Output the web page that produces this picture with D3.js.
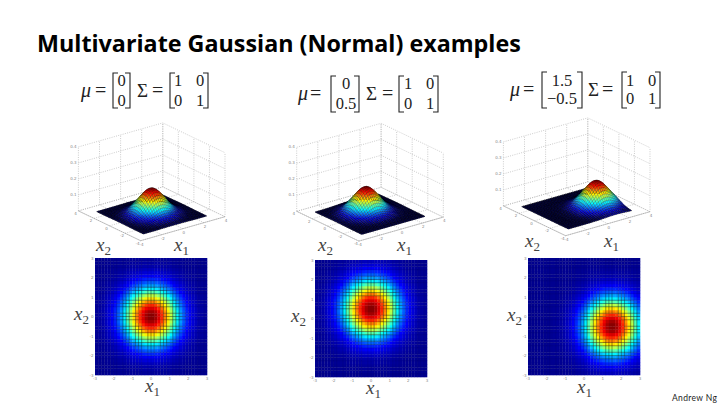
<!DOCTYPE html>
<html>
<head>
<meta charset="utf-8">
<script src="https://cdn.jsdelivr.net/npm/d3@7"></script>
<style>
  html, body { margin: 0; padding: 0; background: #fff; }
  svg { display: block; }
</style>
</head>
<body>
<script>
// values, one profile per axis per panel, step 1/6 from -3 to 3
// (relative to the peak height)
const centred = [.01,.02,.03,.04,.07,.10,.14,.19,.25,.32,.41,.51,.61,.71,.80,.88,.95,.99,1,
                 .99,.95,.88,.80,.71,.61,.51,.41,.32,.25,.19,.14,.10,.07,.04,.03,.02,.01];
const shiftedUp = [0,0,.01,.01,.02,.03,.04,.07,.10,.14,.19,.25,.32,.41,.51,.61,.71,.80,.88,.95,.99,1,
                   .99,.95,.88,.80,.71,.61,.51,.41,.32,.25,.19,.14,.10,.07,.04];
const shiftedDown = [.04,.07,.10,.14,.19,.25,.32,.41,.51,.61,.71,.80,.88,.95,.99,1,.99,.95,.88,.80,
                     .71,.61,.51,.41,.32,.25,.19,.14,.10,.07,.04,.03,.02,.01,.01,0,0];
const shiftedRight = [0,0,0,0,0,0,0,0,.01,.01,.02,.03,.04,.07,.10,.14,.19,.25,.32,.41,.51,.61,
                      .71,.80,.88,.95,.99,1,.99,.95,.88,.80,.71,.61,.51,.41,.32];
const gridValues = d3.range(37).map(i => -3 + i / 6);
const peakZ = 0.159;

const heatTicks = [-3, -2, -1, 0, 1, 2, 3];
const floorTicks = [-4, -2, 0, 2, 4];
const zTicks = [0.1, 0.2, 0.3, 0.4];

const muRows = [["0", "0"], ["0", "0.5"], ["1.5", "\u22120.5"]];
const sigmaRows = [["1", "0"], ["0", "1"]];
const profilesX1 = [centred, centred, shiftedRight];
const profilesX2 = [centred, shiftedUp, shiftedDown];

const jetStops = [0, .125, .375, .625, .875, 1];
const jetColors = ["#00008f", "#0000ff", "#00ffff", "#ffff00", "#ff0000", "#7f0000"];

// layout of each panel
const layouts = [
  { heatX: 95, heatY: 258, cx: 151.7, cy: 213.8,
    label3d: { x2: 96, x1: 174, y: 251 }, labelHeat: { x2: 74, x1: 145, y2: 320, y1: 392 },
    eq: { mu: 81, eq1: 95, lb: 113, col: 121.7, rb: 130, sig: 137, eq2: 152, lb2: 170, c1: 178, c2: 200, rb2: 208, top: 73, bot: 108, r1: 85.5, r2: 105.5 } },
  { heatX: 315, heatY: 260, cx: 370, cy: 214.2,
    label3d: { x2: 318, x1: 397, y: 251 }, labelHeat: { x2: 291, x1: 366, y2: 322, y1: 394 },
    eq: { mu: 298, eq1: 310, lb: 331, col: 346, rb: 359, sig: 366, eq2: 382, lb2: 399, c1: 408, c2: 430, rb2: 438, top: 76, bot: 112, r1: 88.5, r2: 108.5 } },
  { heatX: 528, heatY: 258, cx: 576.7, cy: 208.8,
    label3d: { x2: 525, x1: 604, y: 247 }, labelHeat: { x2: 507, x1: 577, y2: 321, y1: 393 },
    eq: { mu: 510, eq1: 523, lb: 542, col: 562, rb: 582, sig: 588, eq2: 602, lb2: 622, c1: 630, c2: 652, rb2: 660, top: 72, bot: 108, r1: 85.5, r2: 103.5 } }
];

const W = 720, H = 405;
const heatW = 112, heatH = 117;
const svg = d3.select("body").append("svg").attr("width", W).attr("height", H);

const jet = d3.scaleLinear().domain(jetStops).range(jetColors);
const lineAlpha = d3.scaleLinear().domain([0, .15, .3, .7, .85, 1]).range([.12, .2, .65, .7, .12, .03]).clamp(true);
const meshAlpha = d3.scaleLinear().domain([0, .08, .3, 1]).range([.9, .6, .3, .25]).clamp(true);

svg.append("text")
  .attr("x", 37).attr("y", 52)
  .attr("font-family", "Open Sans").attr("font-weight", 700).attr("font-size", 23.3)
  .attr("fill", "#000")
  .text("Multivariate Gaussian (Normal) examples");

svg.append("text")
  .attr("x", 672).attr("y", 401)
  .attr("font-family", "Lato").attr("font-size", 8.5).attr("letter-spacing", 0.35)
  .attr("fill", "#222")
  .text("Andrew Ng");

function axisLabel(g, x, y, sub) {
  const t = g.append("text").attr("x", x).attr("y", y)
    .attr("font-family", "Liberation Serif").attr("font-size", 19).attr("fill", "#444");
  t.append("tspan").attr("font-style", "italic").text("x");
  t.append("tspan").attr("font-size", 13).attr("dy", 4).text(sub);
}

function drawEquation(g, e, mu) {
  const text = (x, y, s, anchor, size) => g.append("text").attr("x", x).attr("y", y)
    .attr("text-anchor", anchor || "middle")
    .attr("font-family", "Liberation Serif").attr("font-size", size || 16.5).attr("fill", "#222").text(s);
  const bracket = (x, dir) => g.append("path")
    .attr("d", `M${x + dir * 5},${e.top}H${x}V${e.bot}H${x + dir * 5}`)
    .attr("fill", "none").attr("stroke", "#222").attr("stroke-width", 1.1);
  const mid = (e.top + e.bot) / 2 + 6;

  text(e.mu, mid, "\u03bc", "start", 20).attr("font-style", "italic");
  text(e.eq1, mid, "=", "start", 20);
  text(e.sig, mid, "\u03a3", "start", 19);
  text(e.eq2, mid, "=", "start", 20);
  bracket(e.lb, 1); bracket(e.rb, -1); bracket(e.lb2, 1); bracket(e.rb2, -1);
  mu.forEach((m, i) => text(e.col, i ? e.r2 : e.r1, m));
  sigmaRows.forEach((row, i) => row.forEach((s, j) =>
    text(j ? e.c2 : e.c1, i ? e.r2 : e.r1, s)));
}

function drawSurface(g, l, px, py) {
  // oblique projection of (x1, x2, z) to the page
  const x1X = d3.scaleLinear().domain([-4, 4]).range([-42.2, 42.2]);
  const x1Y = d3.scaleLinear().domain([-4, 4]).range([12, -12]);
  const x2X = d3.scaleLinear().domain([-4, 4]).range([31.1, -31.1]);
  const x2Y = d3.scaleLinear().domain([-4, 4]).range([14.9, -14.9]);
  const zY = d3.scaleLinear().domain([0, 0.4]).range([0, -64]);
  const project = (a, b, z) => [l.cx + x1X(a) + x2X(b), l.cy + x1Y(a) + x2Y(b) + zY(z)];
  const line = d3.line();

  const walls = g.append("g").attr("fill", "none").attr("stroke", "#aaa")
    .attr("stroke-width", 0.6).attr("stroke-dasharray", "1 1.3");
  const seg = pts => walls.append("path").attr("d", line(pts));
  [0, ...zTicks].forEach(z => {
    seg([project(-4, 4, z), project(4, 4, z), project(4, -4, z)]);
  });
  floorTicks.forEach(t => {
    seg([project(t, -4, 0), project(t, 4, 0), project(t, 4, 0.4)]);
    seg([project(-4, t, 0), project(4, t, 0), project(4, t, 0.4)]);
  });

  const edges = g.append("g").attr("fill", "none").attr("stroke", "#999").attr("stroke-width", 0.5);
  edges.append("path").attr("d", line([project(-4, 4, 0), project(-4, -4, 0), project(4, -4, 0)]));

  const tick = (x, y, s) => g.append("text").attr("x", x).attr("y", y)
    .attr("text-anchor", "middle").attr("font-family", "DejaVu Sans")
    .attr("font-size", 4).attr("fill", "#888").text(s);
  floorTicks.forEach(t => {
    const a = project(t, -4, 0), b = project(-4, t, 0);
    tick(a[0] + 1, a[1] + 5, t);
    tick(b[0] - 3, b[1] + 4, t);
  });
  zTicks.forEach(z => {
    const p = project(-4, 4, z);
    tick(p[0] - 5, p[1] + 1, z);
  });

  // back to front
  const cells = d3.cross(d3.range(36), d3.range(36)).sort((a, b) => (b[0] + b[1]) - (a[0] + a[1]));
  const val = (i, j) => px[i] * py[j];
  const mean = ([i, j]) => (val(i, j) + val(i + 1, j) + val(i + 1, j + 1) + val(i, j + 1)) / 4;
  g.append("g").selectAll("path").data(cells).join("path")
    .attr("d", ([i, j]) => line([
      project(gridValues[i], gridValues[j], val(i, j) * peakZ),
      project(gridValues[i + 1], gridValues[j], val(i + 1, j) * peakZ),
      project(gridValues[i + 1], gridValues[j + 1], val(i + 1, j + 1) * peakZ),
      project(gridValues[i], gridValues[j + 1], val(i, j + 1) * peakZ)
    ]) + "Z")
    .attr("fill", d => jet(mean(d)))
    .attr("stroke", "#000").attr("stroke-width", 0.6).attr("stroke-opacity", d => meshAlpha(mean(d)));
}

function drawHeat(g, l, px, py) {
  const x = d3.scaleLinear().domain([-3, 3]).range([l.heatX, l.heatX + heatW]);
  const y = d3.scaleLinear().domain([-3, 3]).range([l.heatY + heatH, l.heatY]);
  const cells = d3.cross(d3.range(36), d3.range(36));
  const val = ([i, j]) => (px[i] * py[j] + px[i + 1] * py[j] + px[i] * py[j + 1] + px[i + 1] * py[j + 1]) / 4;

  g.append("g").attr("filter", "url(#soft)").selectAll("rect").data(cells).join("rect")
    .attr("x", ([i]) => x(gridValues[i]))
    .attr("y", ([, j]) => y(gridValues[j + 1]))
    .attr("width", heatW / 36 + 0.3).attr("height", heatH / 36 + 0.3)
    .attr("fill", d => jet(val(d)));

  // the mesh shows in bunches of three lines at this size
  g.append("g").selectAll("path").data(cells).join("path")
    .attr("d", ([i, j]) => (i % 4 ? `M${x(gridValues[i])},${y(gridValues[j])}V${y(gridValues[j + 1])}` : "")
      + (j % 4 ? `M${x(gridValues[i])},${y(gridValues[j])}H${x(gridValues[i + 1])}` : ""))
    .attr("fill", "none").attr("stroke", "#000").attr("stroke-width", 0.6)
    .attr("stroke-opacity", d => lineAlpha(val(d)));

  const tick = (tx, ty, s, anchor) => g.append("text").attr("x", tx).attr("y", ty)
    .attr("text-anchor", anchor).attr("font-family", "DejaVu Sans")
    .attr("font-size", 4).attr("fill", "#888").text(s);
  heatTicks.forEach(t => {
    tick(x(t), l.heatY + heatH + 5, t, "middle");
    tick(l.heatX - 1.5, y(t) + 1.5, t, "end");
  });
}

const defs = svg.append("defs");
defs.append("filter").attr("id", "soft").attr("x", 0).attr("y", 0).attr("width", 1).attr("height", 1)
  .append("feGaussianBlur").attr("stdDeviation", 0.6);

layouts.forEach((l, i) => {
  const g = svg.append("g");
  drawEquation(g, l.eq, muRows[i]);
  drawSurface(g, l, profilesX1[i], profilesX2[i]);
  axisLabel(g, l.label3d.x2, l.label3d.y, "2");
  axisLabel(g, l.label3d.x1, l.label3d.y, "1");
  drawHeat(g, l, profilesX1[i], profilesX2[i]);
  axisLabel(g, l.labelHeat.x2, l.labelHeat.y2, "2");
  axisLabel(g, l.labelHeat.x1, l.labelHeat.y1, "1");
});
</script>
</body>
</html>
